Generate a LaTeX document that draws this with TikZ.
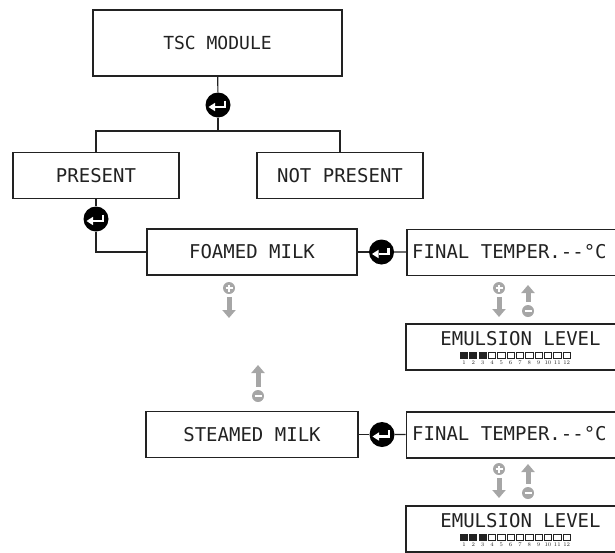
\documentclass[tikz,border=0pt]{standalone}
\usepackage{fontspec}
\setmonofont{DejaVu Sans Mono}
\usepackage{tikz}
\usetikzlibrary{arrows.meta}
\definecolor{ink}{HTML}{222222}
\definecolor{keygray}{HTML}{A6A6A6}

\begin{document}
\begin{tikzpicture}[x=1pt, y=-1pt, font=\ttfamily\fontsize{19}{21}\selectfont, text=ink]
\tikzstyle{box}=[draw=ink, line width=1.8pt, minimum height=46pt, inner sep=0pt]
\tikzstyle{wide}=[box, minimum width=230pt, anchor=north west]
\tikzstyle{link}=[draw=ink, line width=1.2pt]
\tikzstyle{enter}=[circle, fill=black, minimum size=25pt, inner sep=0pt, path picture={
  \draw[white, line width=2.4pt] ([shift={(7,-4.5)}]path picture bounding box.center)
    -- ([shift={(7,2)}]path picture bounding box.center)
    -- ([shift={(-3,2)}]path picture bounding box.center);
  \fill[white] ([shift={(-9.5,2)}]path picture bounding box.center)
    -- ([shift={(-3,-2.2)}]path picture bounding box.center)
    -- ([shift={(-3,6.2)}]path picture bounding box.center) -- cycle;}]
\tikzstyle{plus}=[circle, fill=keygray, minimum size=12pt, inner sep=0pt, path picture={
  \draw[white, line width=2pt] ([shift={(-3.5,0)}]path picture bounding box.center)
    -- ([shift={(3.5,0)}]path picture bounding box.center);
  \draw[white, line width=2pt] ([shift={(0,-3.5)}]path picture bounding box.center)
    -- ([shift={(0,3.5)}]path picture bounding box.center);}]
\tikzstyle{minus}=[circle, fill=keygray, minimum size=12pt, inner sep=0pt, path picture={
  \draw[white, line width=2pt] ([shift={(-3.5,0)}]path picture bounding box.center)
    -- ([shift={(3.5,0)}]path picture bounding box.center);}]
\tikzstyle{move}=[draw=keygray, line width=5pt, shorten <=3pt, -{Triangle[width=13pt, length=8pt]}]

\useasboundingbox (0,0) rectangle (615,552);
\clip (0,0) rectangle (615,552);

% menu tree
\node[box, minimum width=249pt, minimum height=66pt, font=\ttfamily\fontsize{18}{20}\selectfont] (tsc) at (217.5,43) {TSC MODULE};
\node[enter] (e1) at (218,105) {};
\coordinate (br) at (218,131);
\node[box, minimum width=166pt] (present) at (96,175.5) {PRESENT};
\node[box, minimum width=166pt] (absent) at (340,175.5) {NOT PRESENT};
\node[enter] (e2) at (96,219) {};
\node[box, minimum width=210pt] (foamed) at (252,252) {FOAMED MILK};
\node[enter] (e3) at (381.5,252) {};
\node[wide] (temp1) at (406,228.5) {};
\node[anchor=west, inner sep=0pt] (tempText1) at (412,251.5) {FINAL TEMPER.--°C};
\node[wide] (emul1) at (405,323) {};
\node (level1) at (520.5,338.5) {EMULSION LEVEL};
\node[box, minimum width=212pt] (steamed) at (252,434.5) {STEAMED MILK};
\node[enter] (e4) at (382,434.5) {};
\node[wide] (temp2) at (405.5,411) {};
\node[anchor=west, inner sep=0pt] (tempText2) at (412,434) {FINAL TEMPER.--°C};
\node[wide] (emul2) at (405,505) {};
\node (level2) at (520.5,521) {EMULSION LEVEL};

\path[link]
(tsc) edge (e1)
(e1) edge (br)
(present) edge (e2)
(foamed) edge (e3)
(e3) edge (temp1)
(steamed) edge (e4)
(e4) edge (temp2);
\draw[link] (present.north) |- (br) -| (absent.north);
\draw[link] (e2) |- (foamed.west);

% plus / minus keys
\node[plus] (fplus) at (229,288) {};
\coordinate (fdown) at (229,318);
\node[minus] (sminus) at (258,396) {};
\coordinate (sup) at (258,365);
\node[plus] (tplus1) at (499,288) {};
\coordinate (tdown1) at (499,317);
\node[minus] (tminus1) at (528,311) {};
\coordinate (tup1) at (528,285);
\node[plus] (tplus2) at (499,469) {};
\coordinate (tdown2) at (499,498);
\node[minus] (tminus2) at (528,493) {};
\coordinate (tup2) at (528,464);

\draw[move] (fplus) -- (fdown);
\draw[move] (sminus) -- (sup);
\draw[move] (tplus1) -- (tdown1);
\draw[move] (tminus1) -- (tup1);
\draw[move] (tplus2) -- (tdown2);
\draw[move] (tminus2) -- (tup2);

% level bars
\foreach \row in {352,534} {
  \foreach \i in {1,...,12} {
    \pgfmathsetmacro{\xx}{460+(\i-1)*9.33}
    \ifnum\i<4
      \fill[ink] (\xx,\row) rectangle ++(8,6.5);
    \else
      \draw[ink, line width=0.7pt] (\xx+0.35,\row+0.35) rectangle ++(7.3,5.8);
    \fi
    \node[font=\fontsize{5.5}{6}\selectfont, inner sep=0pt] at (\xx+4,\row+10.5) {\i};
  }
}

\end{tikzpicture}
\end{document}
